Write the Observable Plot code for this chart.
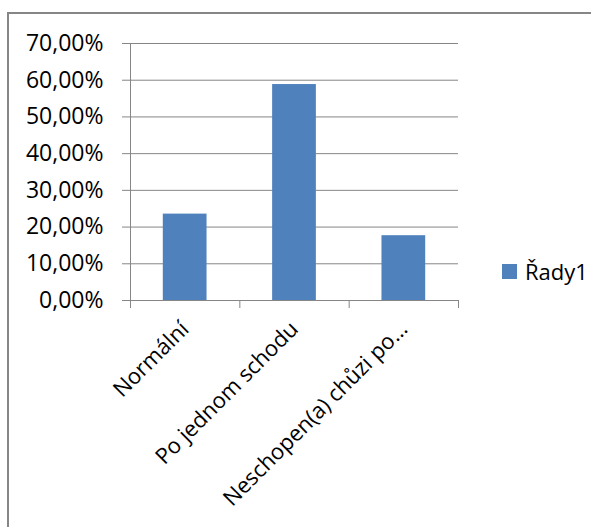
<!DOCTYPE html>
<html><head><meta charset="utf-8">
<script src="https://cdn.jsdelivr.net/npm/d3@7"></script>
<script src="https://cdn.jsdelivr.net/npm/@observablehq/plot@0.6"></script>
<style>
html,body{margin:0;padding:0;background:#fff}
body{overflow:hidden;width:591px;height:527px;position:relative;font-family:"Open Sans",sans-serif;color:#000}
#frame{position:absolute;left:7px;top:12px;width:800px;height:800px;border:2px solid #868686;box-sizing:border-box}
#chart{position:absolute;left:0;top:0}
#legend{position:absolute;left:502px;top:256px;display:flex;align-items:center;font-size:22px;line-height:30px}
#legend .sw{display:inline-block;width:15px;height:15px;background:#4F81BD;margin-right:8px}
</style></head><body>
<div id="frame"></div><div id="chart"></div>
<div id="legend"><span class="sw"></span><span id="lname"></span></div>
<script>
const categories = ["Normální", "Po jednom schodu", "Neschopen(a) chůzi po…"];
const values = [0.2353, 0.5882, 0.1765];
const yTicks = [0, 0.1, 0.2, 0.3, 0.4, 0.5, 0.6, 0.7];
const seriesName = "Řady1";

const data = categories.map((c, i) => ({category: c, index: i, value: values[i]}));
const barHalf = 0.2;
const fmt = d => (d * 100).toFixed(2).replace(".", ",") + "%";

const chart = Plot.plot({
  width: 591,
  height: 527,
  marginLeft: 130,
  marginRight: 133,
  marginTop: 43,
  marginBottom: 227,
  style: {fontFamily: "Open Sans, sans-serif", fontSize: "22px", color: "#000", background: "transparent"},
  x: {type: "linear", domain: [0, categories.length]},
  y: {domain: [0, 0.7]},
  marks: [
    Plot.gridY(yTicks, {stroke: "#868686", strokeOpacity: 1}),
    Plot.frame({anchor: "left", stroke: "#868686"}),
    Plot.rectY(data, {x1: d => d.index + 0.5 - barHalf, x2: d => d.index + 0.5 + barHalf, y: "value", fill: "#4F81BD"}),
    Plot.axisY({ticks: yTicks, tickFormat: fmt, tickSize: 8, tickPadding: 19, stroke: "#868686", fill: "#000", label: null, fontSize: 23}),
    Plot.axisX({ticks: d3.range(categories.length + 1), tickSize: 8, tickFormat: () => "", stroke: "#868686", label: null}),
    Plot.axisX({ticks: categories.map((c, i) => i + 0.5), tickFormat: t => categories[Math.round(t - 0.5)], tickSize: 0, tickPadding: 25, tickRotate: -45, fill: "#000", label: null, fontSize: 22})
  ]
});
document.getElementById("chart").appendChild(chart);
document.getElementById("lname").textContent = seriesName;
</script>
</body></html>
